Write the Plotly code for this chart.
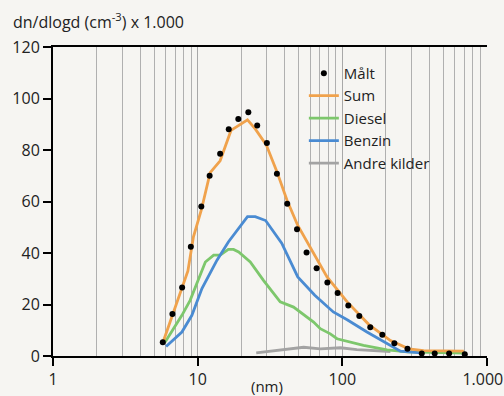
import plotly.graph_objects as go

# Measured points (Målt)
malt_x = [5.74, 6.69, 7.81, 8.97, 10.6, 12.1, 14.3, 16.4, 19.1, 22.4, 25.8, 30.1, 35.3, 41.6,
          48.6, 56.6, 66.4, 78.8, 92.8, 110, 131, 156, 189, 229, 282, 354, 435, 547, 702]
malt_y = [5.3, 16.3, 26.6, 42.4, 58.1, 70.0, 78.5, 88.1, 92.0, 94.7, 89.5, 82.7, 70.8, 59.1,
          49.2, 40.2, 34.1, 28.5, 24.5, 19.6, 15.5, 11.2, 8.3, 5.0, 2.8, 1.0, 1.0, 1.0, 0.7]

# Sum
sum_x = [5.8, 8.56, 9.35, 10.6, 12.2, 14.3, 17.0, 22.1, 25.0, 29.8, 35.3, 41.4, 49.1,
         78.4, 108, 152, 215, 288, 365, 692]
sum_y = [5.8, 33.0, 46.3, 56.7, 71.2, 75.8, 87.6, 91.7, 88.2, 82.0, 71.6, 60.6, 50.8,
         30.7, 21.0, 12.3, 6.0, 2.8, 2.1, 1.9]

# Diesel
diesel_x = [5.96, 7.78, 8.87, 11.3, 12.9, 14.3, 16.3, 17.7, 19.2, 23.1, 28.5, 37.2, 46.0,
            51.2, 63.3, 70.4, 82.6, 91.9, 114, 140, 204, 280, 702]
diesel_y = [5.4, 15.8, 21.6, 36.5, 39.2, 39.2, 41.4, 41.4, 40.4, 36.5, 29.4, 21.0, 19.0,
            17.1, 13.2, 10.6, 8.6, 6.7, 5.4, 4.1, 2.4, 1.6, 1.1]

# Benzin
benzin_x = [6.05, 7.78, 9.12, 10.7, 13.6, 16.3, 22.1, 25.0, 29.5, 38.1, 49.2, 64.5, 86.6,
            108, 148, 204, 252, 347]
benzin_y = [3.7, 9.3, 15.8, 26.2, 37.2, 44.3, 54.1, 54.1, 52.6, 43.8, 30.7, 23.6, 17.1,
            14.1, 9.3, 4.8, 1.9, 1.2]

# Andre kilder
andre_x = [25.4, 39.2, 54.0, 70.4, 96.9, 126, 174, 215]
andre_y = [1.25, 2.5, 3.4, 2.8, 3.2, 2.5, 1.9, 1.75]

x_tickvals = [1, 10, 100, 1000]
x_ticktext = ["1", "10", "100", "1.000\u00a0\u00a0"]

BG = "#f6f5f2"
FONT = "Open Sans"
TXT = "#222222"

fig = go.Figure()
fig.add_trace(go.Scatter(x=andre_x, y=andre_y, mode="lines", name="Andre kilder",
                         line=dict(color="#a3a3a3", width=2.8), legendrank=5))
fig.add_trace(go.Scatter(x=diesel_x, y=diesel_y, mode="lines", name="Diesel",
                         line=dict(color="#7dc76c", width=2.8), legendrank=3))
fig.add_trace(go.Scatter(x=benzin_x, y=benzin_y, mode="lines", name="Benzin",
                         line=dict(color="#4a8bd2", width=2.8), legendrank=4))
fig.add_trace(go.Scatter(x=sum_x, y=sum_y, mode="lines", name="Sum",
                         line=dict(color="#f0a24c", width=2.8), legendrank=2))
fig.add_trace(go.Scatter(x=malt_x, y=malt_y, mode="markers", name="Målt",
                         marker=dict(color="black", size=6), legendrank=1))

fig.update_layout(
    width=504, height=396,
    margin=dict(l=53, r=17, t=47, b=40),
    paper_bgcolor=BG, plot_bgcolor=BG,
    font=dict(family=FONT, size=16, color=TXT),
    showlegend=True,
    legend=dict(x=0.578, y=0.968, xanchor="left", yanchor="top",
                bgcolor="rgba(0,0,0,0)", font=dict(size=15, color=TXT),
                traceorder="normal"),
    xaxis=dict(type="log", range=[0, 3], tickvals=x_tickvals, ticktext=x_ticktext,
               ticks="outside", ticklen=8, tickwidth=1.5, tickcolor="black",
               showline=True, linecolor="black", linewidth=2, mirror=True,
               showgrid=True, gridcolor="#a8a8a8", gridwidth=1,
               minor=dict(dtick="D1", showgrid=True, gridcolor="#b0b0b0", gridwidth=1, ticks=""),
               zeroline=False, automargin=False, ticklabeloverflow="allow",
               tickfont=dict(size=16, color=TXT)),
    yaxis=dict(range=[0, 120], dtick=20, ticks="outside", ticklen=8, tickwidth=1.5,
               tickcolor="black", showline=True, linecolor="black", linewidth=2,
               showgrid=False, zeroline=False, automargin=False,
               tickfont=dict(size=16, color=TXT)),
    shapes=[dict(type="rect", xref="paper", yref="paper", x0=0.598, x1=1.0,
                 y0=0.586, y1=0.953, fillcolor=BG, line=dict(width=0), layer="between")],
    annotations=[
        dict(text="dn/dlogd (cm<sup>-3</sup>) x 1.000", xref="paper", yref="paper",
             x=-0.097, y=1.083, xanchor="left", yanchor="middle", showarrow=False,
             font=dict(size=16, color=TXT)),
        dict(text="(nm)", xref="paper", yref="paper", x=0.494, y=-0.097,
             xanchor="center", yanchor="middle", showarrow=False,
             font=dict(size=15, color=TXT)),
    ],
)

fig.write_html("out.html")
